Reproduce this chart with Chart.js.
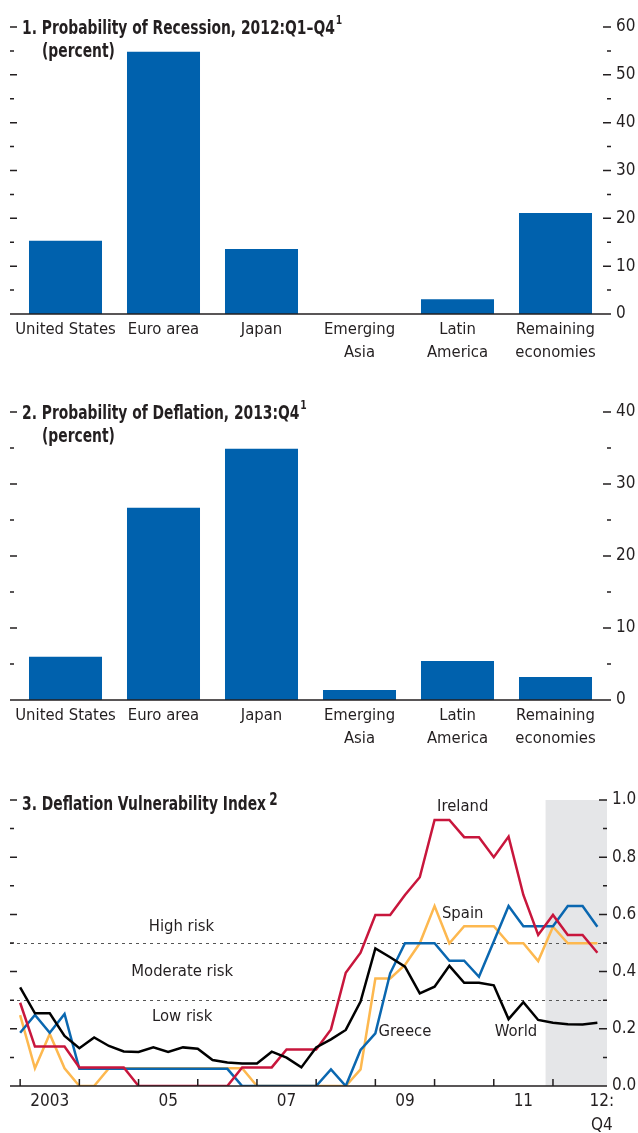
<!DOCTYPE html>
<html>
<head>
<meta charset="utf-8">
<script src="https://cdn.jsdelivr.net/npm/chart.js@4.4.1/dist/chart.umd.min.js"></script>
<style>
  html, body { margin: 0; padding: 0; background: #fff; }
  body {
    width: 638px; height: 1133px; position: relative; overflow: hidden;
    font-family: 'Liberation Sans Narrow', 'DejaVu Sans Condensed', 'Arial Narrow', sans-serif;
    color: #231f20;
  }
  canvas { position: absolute; left: 0; }
  .title {
    position: absolute; font-weight: bold; font-size: 19.5px; line-height: 22px; white-space: nowrap;
    transform: scaleX(0.79); transform-origin: 0 0;
  }
  .title sup { font-size: 13px; vertical-align: 0; position: relative; top: -10px; margin-left: 1px; }
</style>
</head>
<body>
<canvas id="recession" width="638" height="374" style="top:0"></canvas>
<canvas id="deflation" width="638" height="375" style="top:385px"></canvas>
<canvas id="vulnerability" width="638" height="360" style="top:773px"></canvas>

<div class="title" style="left:22px;top:17px">1. Probability of Recession, 2012:Q1–Q4<sup>1</sup></div>
<div class="title" style="left:42px;top:40px">(percent)</div>
<div class="title" style="left:22px;top:402px">2. Probability of Deflation, 2013:Q4<sup>1</sup></div>
<div class="title" style="left:42px;top:425px">(percent)</div>
<div class="title" style="left:22px;top:793px">3. Deflation Vulnerability Index<sup style="font-size:17px;top:-5px;margin-left:4px">2</sup></div>

<script>
const FONT = "'Liberation Sans Narrow', 'DejaVu Sans Condensed', 'Arial Narrow', sans-serif";
const INK = '#231f20';

// pannelli 1 e 2: paesi e probabilita (percento)
const countries = [['United States'], ['Euro area'], ['Japan'], ['Emerging', 'Asia'], ['Latin', 'America'], ['Remaining', 'economies']];
const recessionProb = [15.3, 54.8, 13.6, 0, 3.1, 21.1];
const deflationProb = [6.0, 26.7, 34.9, 1.4, 5.4, 3.2];
const recessionTicks = [0, 10, 20, 30, 40, 50, 60];
const recessionMinor = [5, 15, 25, 35, 45, 55];
const deflationTicks = [0, 10, 20, 30, 40];
const deflationMinor = [5, 15, 25, 35];

// pannello 3: indice trimestrale 2003:Q1 - 2012:Q4
const quarters = [];
for (let yr = 2003; yr <= 2012; yr++) for (let q = 1; q <= 4; q++) quarters.push(yr + ':Q' + q);
const world   = [0.345, 0.254, 0.254, 0.175, 0.132, 0.170, 0.140, 0.121, 0.119, 0.135,
                 0.119, 0.135, 0.130, 0.091, 0.082, 0.079, 0.079, 0.120, 0.099, 0.065,
                 0.135, 0.163, 0.196, 0.295, 0.481, 0.450, 0.417, 0.324, 0.347, 0.420,
                 0.361, 0.361, 0.352, 0.234, 0.293, 0.231, 0.221, 0.216, 0.215, 0.221];
const ireland = [0.291, 0.138, 0.138, 0.138, 0.065, 0.065, 0.065, 0.065, 0, 0,
                 0, 0, 0, 0, 0, 0.065, 0.065, 0.065, 0.128, 0.128,
                 0.128, 0.198, 0.396, 0.466, 0.598, 0.598, 0.668, 0.730, 0.930, 0.930,
                 0.870, 0.870, 0.800, 0.872, 0.668, 0.528, 0.598, 0.528, 0.528, 0.466];
const greece  = [0.186, 0.248, 0.186, 0.252, 0.060, 0.060, 0.060, 0.060, 0.060, 0.060,
                 0.060, 0.060, 0.060, 0.060, 0.060, 0, 0, 0, 0, 0,
                 0, 0.058, 0, 0.126, 0.184, 0.394, 0.499, 0.499, 0.499, 0.438,
                 0.438, 0.382, 0.505, 0.629, 0.559, 0.559, 0.559, 0.629, 0.629, 0.557];
const spain   = [0.248, 0.062, 0.182, 0.062, 0, 0, 0.062, 0.062, 0.062, 0.062,
                 0.062, 0.062, 0.062, 0.062, 0.062, 0.062, 0, 0, 0, 0,
                 0, 0, 0, 0.058, 0.376, 0.376, 0.423, 0.499, 0.629, 0.499,
                 0.559, 0.559, 0.559, 0.499, 0.499, 0.437, 0.557, 0.499, 0.499, 0.499];
const vulnTicks = [0, 0.2, 0.4, 0.6, 0.8, 1.0];
const vulnMinor = [0.1, 0.3, 0.5, 0.7, 0.9];
const riskLines = [0.5, 0.3];
const yearStarts = [0, 4, 8, 12, 16, 20, 24, 28, 32, 36];
const yearLabels = ['2003', '05', '07', '09', '11', ['12:', 'Q4']];
const yearLabelPos = [2, 10, 18, 26, 34, 39.3];
const forecastFrom = 35.5;

// Plugin: asse, tacche interne, zona ombreggiata, linee tratteggiate, etichette
const frame = {
  id: 'frame',
  beforeDatasetsDraw(chart, args, o) {
    const { ctx, chartArea: a, scales: { x, y } } = chart;
    ctx.save();
    if (o.shadeFrom !== undefined) {
      const x0 = x.getPixelForValue(o.shadeFrom);
      ctx.fillStyle = '#e5e6e8';
      ctx.fillRect(x0, a.top, a.right - x0, a.bottom - a.top);
    }
    if (o.dashed) {
      ctx.strokeStyle = '#555';
      ctx.lineWidth = 1;
      ctx.setLineDash([3, 4]);
      o.dashed.forEach(v => {
        const py = Math.round(y.getPixelForValue(v)) + 0.5;
        ctx.beginPath();
        ctx.moveTo(a.left - o.extL, py);
        ctx.lineTo(a.right + o.extR, py);
        ctx.stroke();
      });
    }
    ctx.restore();
  },
  afterDatasetsDraw(chart, args, o) {
    const { ctx, chartArea: a, scales: { x, y } } = chart;
    const L = a.left - o.extL, R = a.right + o.extR;
    const seg = (x1, y1, x2, y2) => { ctx.moveTo(x1, y1); ctx.lineTo(x2, y2); };
    ctx.save();
    ctx.strokeStyle = INK;
    ctx.lineWidth = 1.5;
    ctx.beginPath();
    seg(L, a.bottom, R, a.bottom);
    o.major.forEach(v => { const py = y.getPixelForValue(v); seg(L, py, L + 7, py); seg(R - 8, py, R, py); });
    o.minor.forEach(v => { const py = y.getPixelForValue(v); seg(L, py, L + 4, py); seg(R - 4, py, R, py); });
    (o.xMarks || []).forEach(v => { const px = x.getPixelForValue(v); seg(px, a.bottom, px, a.bottom - 7); });
    ctx.stroke();
    ctx.fillStyle = INK;
    ctx.font = '16.5px ' + FONT;
    ctx.textAlign = 'center';
    ctx.textBaseline = 'middle';
    (o.notes || []).forEach(n => ctx.fillText(n.text, x.getPixelForValue(n.x), y.getPixelForValue(n.y)));
    ctx.restore();
  }
};

Chart.defaults.font.family = FONT;
Chart.defaults.font.size = 17;
Chart.defaults.color = INK;
Chart.defaults.animation = false;

function barConfig(values, max, major, minor) {
  return {
    type: 'bar',
    data: {
      labels: countries,
      datasets: [{ data: values, backgroundColor: '#0061ad', categoryPercentage: 1, barPercentage: 0.745 }]
    },
    options: {
      responsive: false,
      layout: { padding: { left: 16.5, top: 27, right: 0, bottom: 0 } },
      plugins: {
        legend: { display: false },
        tooltip: { enabled: false },
        frame: { extL: 6.5, extR: 6.5, major: major, minor: minor }
      },
      scales: {
        x: {
          grid: { display: false, drawTicks: false },
          border: { display: false },
          ticks: { padding: 4, maxRotation: 0, autoSkip: false, font: { size: 16.5, lineHeight: 1.4 } },
          afterFit: s => { s.height = 60; }
        },
        y: {
          position: 'right',
          min: 0, max: max,
          grid: { display: false, drawTicks: false },
          border: { display: false },
          ticks: { stepSize: 10, padding: 11.5 },
          afterFit: s => { s.width = 33.5; }
        }
      }
    },
    plugins: [frame]
  };
}

function series(values) {
  return values.map((v, i) => ({ x: i, y: v }));
}

const vulnConfig = {
  type: 'line',
  data: {
    datasets: [
      { label: 'World', data: series(world), borderColor: '#000000' },
      { label: 'Ireland', data: series(ireland), borderColor: '#c8163c' },
      { label: 'Greece', data: series(greece), borderColor: '#0a67b0' },
      { label: 'Spain', data: series(spain), borderColor: '#fdb84f' }
    ]
  },
  options: {
    responsive: false,
    layout: { padding: { left: 12, top: 27, right: 0, bottom: 0 } },
    elements: { point: { radius: 0 }, line: { borderWidth: 2.5, tension: 0 } },
    plugins: {
      legend: { display: false },
      tooltip: { enabled: false },
      frame: {
        extL: 2, extR: 0,
        major: vulnTicks, minor: vulnMinor,
        xMarks: yearStarts,
        shadeFrom: forecastFrom,
        dashed: riskLines,
        notes: [
          { text: 'Ireland', x: 29.9, y: 0.976 },
          { text: 'Spain', x: 29.9, y: 0.601 },
          { text: 'Greece', x: 26.0, y: 0.189 },
          { text: 'World', x: 33.5, y: 0.189 },
          { text: 'High risk', x: 10.9, y: 0.556 },
          { text: 'Moderate risk', x: 10.95, y: 0.399 },
          { text: 'Low risk', x: 10.95, y: 0.241 }
        ]
      }
    },
    scales: {
      x: {
        type: 'linear',
        min: -0.55, max: 39.65,
        grid: { display: false, drawTicks: false },
        border: { display: false },
        afterBuildTicks: s => { s.ticks = yearLabelPos.map(v => ({ value: v })); },
        ticks: {
          padding: 4, maxRotation: 0, autoSkip: false,
          font: { size: 17, lineHeight: 1.4 },
          callback: (v, i) => yearLabels[i]
        },
        afterFit: s => { s.height = 47; }
      },
      y: {
        position: 'right',
        min: 0, max: 1,
        grid: { display: false, drawTicks: false },
        border: { display: false },
        afterBuildTicks: s => { s.ticks = vulnTicks.map(v => ({ value: v })); },
        ticks: { padding: 5, callback: v => v.toFixed(1) },
        afterFit: s => { s.width = 31; }
      }
    }
  },
  plugins: [frame]
};

new Chart(document.getElementById('recession'), barConfig(recessionProb, 60, recessionTicks, recessionMinor));
new Chart(document.getElementById('deflation'), barConfig(deflationProb, 40, deflationTicks, deflationMinor));
new Chart(document.getElementById('vulnerability'), vulnConfig);
</script>
</body>
</html>
